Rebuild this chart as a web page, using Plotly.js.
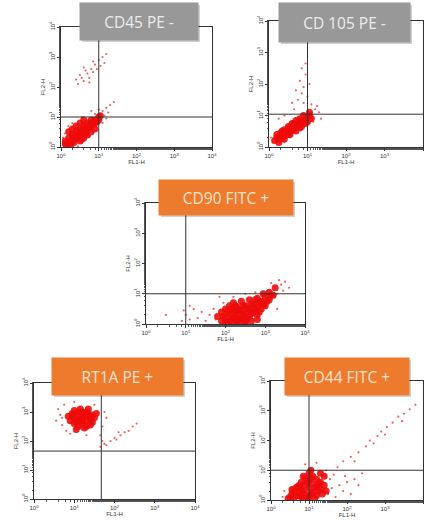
<!DOCTYPE html>
<html><head><meta charset="utf-8">
<script src="https://cdn.plot.ly/plotly-3.0.1.min.js"></script>
<style>html,body{margin:0;padding:0;background:#fff}#chart{width:424px;height:522px}</style>
</head><body><div id="chart"></div>
<script>
// ---- titles ----
const panelTitles = ["CD45 PE -", "CD 105 PE -", "CD90 FITC +", "RT1A PE +", "CD44 FITC +"];
const tickVals = [1, 10, 100, 1000, 10000];
const tickText = ["10<sup>0</sup>", "10<sup>1</sup>", "10<sup>2</sup>", "10<sup>3</sup>", "10<sup>4</sup>"];
const xLabel = "FL1-H", yLabel = "FL2-H";
// gate positions [x, y] per panel
const gateX = [10, 10, 10, 47, 10];
const gateY = [10, 11, 10, 45, 10];

// ---- panel 1: CD45 PE - ----
const p1CoreX = [1.3,1.6,1.3,1.6,2,2,2,2.5,2.5,2.5,3.2,3.2,3.2,4,4,4,5,5,5,6.3,6.3,6.3,7.9,7.9,10,10,1.6,2,3.2,4,2.5,5,3.2,6.3,4,7.9,1.4,2.2,2.8,3.5,4.5,5.6,7,8.9,1.8,2.2,3.5,4.5,11];
const p1CoreY = [1.3,1.3,1.6,2,1.6,2,2.5,2,2.5,3.2,2.5,3.2,4,3.2,4,5,4,5,6.3,5,6.3,7.9,6.3,7.9,7.9,10,3.2,4,1.6,2,5,2.5,6.3,3.2,7.9,4,1.15,1.8,2.2,2.8,3.5,4.5,5.6,7,1.15,1.4,1.8,2.8,11];
const p1SparseX = [2.82,3.55,3.98,5.01,5.62,6.31,7.08,7.94,8.91,10,11.2,12.6,4.47,3.16,7.08,14.1,5.62,3.98,15.8,2.51,
  12.6,15.8,14.1,7.94,10,1.12,1.26,2,3.98,5.62,12.6,2,1.58,17.8,3.55,20,6.31,15.8,2.82,1.12,25.1];
const p1SparseY = [126,200,158,282,200,398,316,562,398,794,501,1000,355,251,708,631,141,447,1259,178,
  15.8,20,11.2,12.6,17.8,2,2.82,1.12,1.58,2.24,6.31,6.31,5.01,14.1,10,25.1,15.8,8.91,1.05,1.12,31.6];

// ---- panel 2: CD 105 PE - ----
const p2CoreX = [1.4,1.8,1.6,2,2.2,2.5,2.8,3.2,3.5,4,4.5,5,5.6,6.3,7,7.9,8.9,10,11.2,2,2.5,3.2,4,5,6.3,7.9,1.6,2.5,3.5,5,7,10,12.6,3.2,4.5,6.3,8.9,2.2,1.8,11.2];
const p2CoreY = [1.6,1.4,2,1.8,2.5,2.2,2.8,2.5,3.2,3.5,4,4.5,5,5.6,6.3,7,7.9,8.9,10,2.8,3.5,4.5,5.6,7,7.9,10,2.5,1.8,2.5,3.2,4.5,6.3,8,4,5.6,4,5.6,3.2,2.2,12.6];
const p2SparseX = [5.62,7.08,7.94,6.31,8.91,7.08,10,5.01,11.2,7.94,3.98,12.6,15.8,17.8,20,1.12,1.26,2.51,3.55,1.78,2.51,14.1,8.91,4.47,22.4];
const p2SparseY = [31.6,50.1,79.4,126,200,316,39.8,63.1,100,25.1,25.1,22.4,15.8,20,12.6,2,1.41,1.41,2,7.94,10,6.31,447,15.8,7.94];

// ---- panel 3: CD90 FITC + ----
const p3CoreX = [79.4,79.4,100,100,126,126,126,158,158,158,200,200,200,251,251,251,316,316,316,398,398,398,501,501,631,631,631,794,794,1000,1000,1259,1259,1585,1778,112,224,447,63.1,891,
  89.1,112,141,141,178,178,224,224,282,282,355,355,447,447,562,562,708,708,891,1122,1413,100,158,316,631];
const p3CoreY = [1.26,2.51,1.58,3.16,1.26,2.24,3.98,1.58,2.82,5.01,1.26,2,3.55,1.58,2.82,5.62,1.26,2.24,3.98,1.78,3.16,6.31,2.51,4.47,2,3.55,7.08,3.16,5.62,3.98,7.94,6.31,11.2,8.91,15.8,1.05,1.05,1.26,1.78,10,
  1.78,2.51,1.58,3.16,2.24,3.98,1.41,2.82,2,3.98,1.58,3.16,2.24,4.47,3.16,6.31,2.51,5.01,4.47,5.62,8.91,1.12,1.12,1.12,1.41];
const p3SparseX = [7.94,10,12.6,15.8,20,25.1,31.6,12.6,8.91,39.8,50.1,56.2,2239,2512,1995,2818,1413,3162,316,158,89.1,3981,562,3.16,70.8,1995];
const p3SparseY = [1.26,2,1.41,3.16,1.58,2.51,1.26,3.98,2.82,2,3.16,1.41,28.2,20,10,12.6,22.4,25.1,10,7.94,5.01,15.8,11.2,2,7.94,3.16];

// ---- panel 4: RT1A PE + ----
const p4CoreX = [15.8,12.6,20,10,25.1,15.8,15.8,11.2,22.4,8.91,28.2,12.6,20,7.94,31.6,14.1,22.4,10,17.8,14.1,7.08,35.5,17.8,25.1,11.2,
  12.6,20,15.8,15.8,10,25.1,8.91,20,12.6,28.2];
const p4CoreY = [631,794,501,631,708,1000,398,447,891,891,447,316,316,501,631,1259,1259,1122,708,562,708,891,282,355,251,
  501,794,794,501,398,562,708,1000,1000,794];
const p4SparseX = [3.55,4.47,5.01,3.98,5.62,50.1,56.2,44.7,7.94,20,31.6,6.31,10,63.1,5.01,
  44.7,56.2,63.1,79.4,100,112,141,178,224,282,355,50.1,126];
const p4SparseY = [501,794,355,1259,1778,316,1000,158,178,158,1778,224,2239,631,631,
  63.1,79.4,70.8,100,126,112,158,200,224,316,398,100,200];

// ---- panel 5: CD44 FITC + ----
const p5CoreX = [3.16,3.98,3.98,5.01,5.01,6.31,6.31,6.31,7.94,7.94,7.94,10,10,10,10,12.6,12.6,12.6,15.8,15.8,15.8,20,20,20,25.1,3.55,4.47,5.62,7.08,8.91,14.1,22.4,11.2,2.82,25.1,
  3.55,4.47,5.62,7.08,8.91,11.2,11.2,14.1,17.8,17.8,7.08,28.2];
const p5CoreY = [1.26,1.12,2,1.41,2.82,1.26,2.24,3.98,1.58,3.16,5.62,1.26,2.51,4.47,7.94,1.78,3.55,6.31,1.41,2.82,5.01,2.24,3.98,7.94,3.16,1.58,2.51,1.78,6.31,1.12,1.12,1.58,10,1.12,6.31,
  2.24,1.41,3.16,2,3.98,1.58,5.62,2.51,2,3.55,1.12,2];
const p5SparseX = [31.6,39.8,50.1,63.1,79.4,100,126,158,35.5,44.7,28.2,56.2,200,89.1,251,
  79.4,126,200,316,398,631,794,1122,1585,2239,3162,4467,6310,158,501,1000,2818,
  7.94,15.8,2,2.24];
const p5SparseY = [1.58,2.51,1.26,3.16,2,3.98,1.58,5.01,5.01,7.08,10,12.6,3.16,6.31,7.94,
  20,28.2,39.8,63.1,100,141,200,282,398,631,794,1122,1585,20,79.4,158,447,
  15.8,17.8,1.26,2];

const cores = [[p1CoreX,p1CoreY],[p2CoreX,p2CoreY],[p3CoreX,p3CoreY],[p4CoreX,p4CoreY],[p5CoreX,p5CoreY]];
const sparse = [[p1SparseX,p1SparseY],[p2SparseX,p2SparseY],[p3SparseX,p3SparseY],[p4SparseX,p4SparseY],[p5SparseX,p5SparseY]];

// ---- layout geometry (pixels) ----
const W = 424, H = 522;
const boxes = [ // plot area: left, right, top, bottom
  [61, 212, 27, 147],
  [269, 423, 21, 147],
  [146, 305, 203, 324],
  [34, 195, 383, 499],
  [271, 423, 381, 500]
];
const titleBoxes = [ // left, right, top, bottom
  [80, 198, 3, 40],
  [279, 410, 3, 42],
  [159, 293, 180, 215],
  [52, 183, 358, 395],
  [285, 409, 358, 395]
];
const titleBg = ["#989898", "#989898", "#ee7a2e", "#ee7a2e", "#ee7a2e"];
const titleFg = ["#ececec", "#ececec", "#fde3cc", "#fde3cc", "#fde3cc"];

const data = [];
const layout = {
  width: W, height: H, margin: {l: 0, r: 0, t: 0, b: 0},
  paper_bgcolor: "#fff", plot_bgcolor: "#fff", showlegend: false,
  shapes: [], annotations: []
};

const axFont = {family: "Liberation Sans, Arial", size: 6, color: "#333"};
for (let i = 0; i < 5; i++) {
  const n = i === 0 ? "" : String(i + 1);
  const xa = "x" + n, ya = "y" + n;
  const b = boxes[i];
  data.push({x: sparse[i][0], y: sparse[i][1], xaxis: xa, yaxis: ya, type: "scatter", mode: "markers",
    marker: {color: "rgba(230,30,30,0.7)", size: 2.2}, hoverinfo: "skip"});
  data.push({x: cores[i][0], y: cores[i][1], xaxis: xa, yaxis: ya, type: "scatter", mode: "markers",
    marker: {color: "rgba(238,10,10,0.9)", size: 7}, hoverinfo: "skip"});
  const common = {type: "log", range: [0, 4], tickvals: tickVals, ticktext: tickText,
    showline: true, linecolor: "#333", linewidth: 1, mirror: true, showgrid: false, zeroline: false,
    ticks: "outside", ticklen: 3, tickcolor: "#333",
    minor: {ticks: "outside", ticklen: 1.5, tickcolor: "#555", showgrid: false},
    tickfont: axFont};
  layout["xaxis" + n] = Object.assign({}, common, {domain: [b[0] / W, b[1] / W], anchor: ya,
    title: {text: xLabel, font: axFont, standoff: 1}});
  layout["yaxis" + n] = Object.assign({}, common, {domain: [1 - b[3] / H, 1 - b[2] / H], anchor: xa,
    tickangle: -90,
    title: {text: yLabel, font: axFont, standoff: 1}});
  // gates
  layout.shapes.push({type: "line", xref: xa, yref: ya + " domain", x0: gateX[i], x1: gateX[i], y0: 0, y1: 1, line: {color: "#333", width: 1}});
  layout.shapes.push({type: "line", xref: xa + " domain", yref: ya, x0: 0, x1: 1, y0: gateY[i], y1: gateY[i], line: {color: "#333", width: 1}});
  // title box shadow + box
  const t = titleBoxes[i];
  layout.shapes.push({type: "rect", xref: "paper", yref: "paper", x0: (t[0] + 2) / W, x1: (t[1] + 2) / W,
    y0: 1 - (t[3] + 2) / H, y1: 1 - (t[2] + 2) / H, fillcolor: "rgba(0,0,0,0.18)", line: {width: 0}, layer: "above"});
  layout.annotations.push({xref: "paper", yref: "paper", x: (t[0] + t[1]) / 2 / W, y: 1 - (t[2] + t[3]) / 2 / H,
    xanchor: "center", yanchor: "middle", text: panelTitles[i], showarrow: false,
    width: t[1] - t[0], height: t[3] - t[2], bgcolor: titleBg[i], borderpad: 0,
    font: {family: "Open Sans, Noto Sans, sans-serif", size: 15.5, color: titleFg[i]}});
}

Plotly.newPlot("chart", data, layout, {staticPlot: true, displayModeBar: false});
</script>
</body></html>
